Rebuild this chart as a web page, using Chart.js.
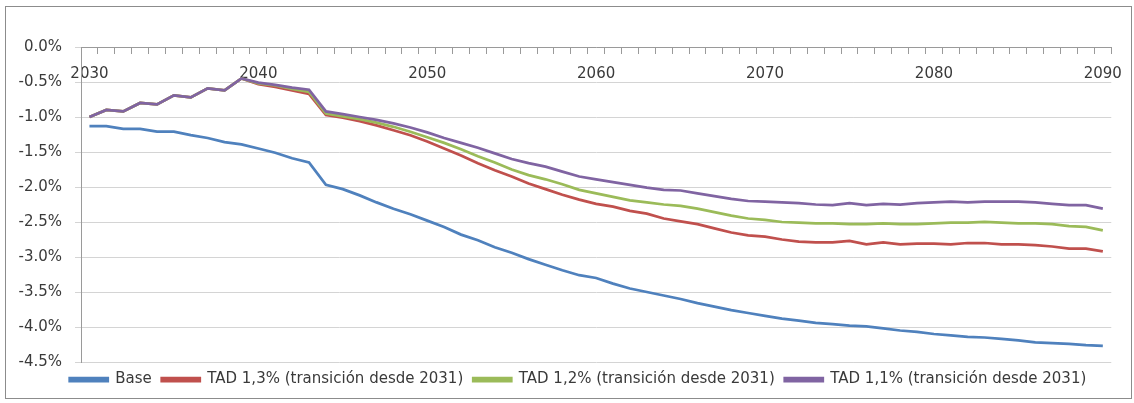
<!DOCTYPE html>
<html>
<head>
<meta charset="utf-8">
<script src="https://cdn.jsdelivr.net/npm/chart.js@4.4.1/dist/chart.umd.min.js"></script>
<style>
  html, body { margin: 0; padding: 0; background: #fff; }
  #wrap { position: absolute; left: 0; top: 0; width: 1134px; height: 403px; }
</style>
</head>
<body>
<div id="wrap"><canvas id="c" width="1134" height="403"></canvas></div>
<script>
// Years on the category axis
const years = [
  2030,2031,2032,2033,2034,2035,2036,2037,2038,2039,
  2040,2041,2042,2043,2044,2045,2046,2047,2048,2049,
  2050,2051,2052,2053,2054,2055,2056,2057,2058,2059,
  2060,2061,2062,2063,2064,2065,2066,2067,2068,2069,
  2070,2071,2072,2073,2074,2075,2076,2077,2078,2079,
  2080,2081,2082,2083,2084,2085,2086,2087,2088,2089,
  2090
];

// Series values, in percent
const base = [
  -1.13,-1.13,-1.17,-1.17,-1.21,-1.21,-1.26,-1.30,-1.36,-1.39,
  -1.45,-1.51,-1.59,-1.65,-1.97,-2.03,-2.12,-2.22,-2.31,-2.39,
  -2.48,-2.57,-2.68,-2.76,-2.86,-2.94,-3.03,-3.11,-3.19,-3.26,
  -3.30,-3.38,-3.45,-3.50,-3.55,-3.60,-3.66,-3.71,-3.76,-3.80,
  -3.84,-3.88,-3.91,-3.94,-3.96,-3.98,-3.99,-4.02,-4.05,-4.07,
  -4.10,-4.12,-4.14,-4.15,-4.17,-4.19,-4.22,-4.23,-4.24,-4.26,
  -4.27
];
const tad13 = [
  -1.00,-0.90,-0.92,-0.80,-0.82,-0.69,-0.72,-0.59,-0.62,-0.45,
  -0.53,-0.57,-0.62,-0.67,-0.97,-1.01,-1.06,-1.12,-1.19,-1.26,
  -1.35,-1.45,-1.55,-1.66,-1.76,-1.85,-1.95,-2.03,-2.11,-2.18,
  -2.24,-2.28,-2.34,-2.38,-2.45,-2.49,-2.53,-2.59,-2.65,-2.69,
  -2.71,-2.75,-2.78,-2.79,-2.79,-2.77,-2.82,-2.79,-2.82,-2.81,
  -2.81,-2.82,-2.80,-2.80,-2.82,-2.82,-2.83,-2.85,-2.88,-2.88,
  -2.92
];
const tad12 = [
  -1.00,-0.90,-0.92,-0.80,-0.82,-0.69,-0.72,-0.59,-0.62,-0.45,
  -0.52,-0.55,-0.60,-0.64,-0.95,-0.99,-1.03,-1.08,-1.14,-1.21,
  -1.29,-1.37,-1.46,-1.56,-1.65,-1.75,-1.83,-1.89,-1.96,-2.04,
  -2.09,-2.14,-2.19,-2.22,-2.25,-2.27,-2.31,-2.36,-2.41,-2.45,
  -2.47,-2.50,-2.51,-2.52,-2.52,-2.53,-2.53,-2.52,-2.53,-2.53,
  -2.52,-2.51,-2.51,-2.50,-2.51,-2.52,-2.52,-2.53,-2.56,-2.57,
  -2.62
];
const tad11 = [
  -1.00,-0.90,-0.92,-0.80,-0.82,-0.69,-0.72,-0.59,-0.62,-0.45,
  -0.51,-0.54,-0.58,-0.61,-0.92,-0.96,-1.00,-1.04,-1.09,-1.15,
  -1.22,-1.30,-1.37,-1.44,-1.52,-1.60,-1.66,-1.71,-1.78,-1.85,
  -1.89,-1.93,-1.97,-2.01,-2.04,-2.05,-2.09,-2.13,-2.17,-2.20,
  -2.21,-2.22,-2.23,-2.25,-2.26,-2.23,-2.26,-2.24,-2.25,-2.23,
  -2.22,-2.21,-2.22,-2.21,-2.21,-2.21,-2.22,-2.24,-2.26,-2.26,
  -2.31
];

const seriesNames = [
  'Base',
  'TAD 1,3% (transición desde 2031)',
  'TAD 1,2% (transición desde 2031)',
  'TAD 1,1% (transición desde 2031)'
];
const seriesColors = ['#4F81BD', '#C0504D', '#9BBB59', '#8064A2'];
const seriesData = [base, tad13, tad12, tad11];
// later series are painted on top of earlier ones
const drawOrder = [3, 2, 1, 0];

// Y ticks from 0.0% down to -4.5%
const yTicks = [0, -0.5, -1, -1.5, -2, -2.5, -3, -3.5, -4, -4.5];

const axisFont = { family: 'DejaVu Sans', size: 15 };
const textColor = '#3a3a3a';

// Outer frame around the whole chart
const framePlugin = {
  id: 'frame',
  afterDraw(chart) {
    const ctx = chart.ctx;
    ctx.save();
    ctx.strokeStyle = '#8c8c8c';
    ctx.lineWidth = 1;
    ctx.strokeRect(5.5, 6.5, 1126, 392);
    ctx.restore();
  }
};

// Nudge the legend row a little to the right, under the plot area
const legendShift = {
  id: 'legendShift',
  afterLayout(chart) {
    if (chart.legend) {
      chart.legend.left += 16;
      chart.legend.right += 16;
    }
  }
};

new Chart(document.getElementById('c'), {
  type: 'line',
  data: {
    labels: years,
    datasets: seriesData.map((d, i) => ({
      label: seriesNames[i],
      data: d,
      borderColor: seriesColors[i],
      backgroundColor: seriesColors[i],
      borderWidth: 2.75,
      pointRadius: 0,
      tension: 0,
      order: drawOrder[i]
    }))
  },
  options: {
    responsive: false,
    animation: false,
    layout: { padding: { left: 0, right: 10, top: 47, bottom: 6 } },
    plugins: {
      legend: {
        position: 'bottom',
        labels: {
          boxWidth: 38,
          boxHeight: 3,
          padding: 10,
          color: textColor,
          font: { family: 'DejaVu Sans', size: 15 },
          sort: (a, b) => a.datasetIndex - b.datasetIndex
        }
      },
      tooltip: { enabled: false }
    },
    scales: {
      x: {
        type: 'category',
        position: { y: 0 },
        offset: true,
        grid: {
          offset: true,
          drawOnChartArea: false,
          drawTicks: true,
          tickLength: 6,
          color: '#9a9a9a'
        },
        border: { display: true, color: '#9a9a9a', width: 1 },
        ticks: {
          autoSkip: false,
          maxRotation: 0,
          padding: 12,
          color: textColor,
          font: axisFont,
          callback: function (v, i) {
            const y = years[i];
            return y % 10 === 0 ? String(y) : '';
          }
        }
      },
      y: {
        min: -4.5,
        max: 0,
        afterFit(scale) { scale.width = 81; },
        afterBuildTicks(scale) { scale.ticks = yTicks.map(v => ({ value: v })); },
        grid: { color: '#d4d4d4', tickLength: 6, lineWidth: 1 },
        border: { display: true, color: '#9a9a9a' },
        ticks: {
          padding: 13,
          color: textColor,
          font: axisFont,
          callback: v => v.toFixed(1) + '%'
        }
      }
    }
  },
  plugins: [framePlugin, legendShift]
});
</script>
</body>
</html>
